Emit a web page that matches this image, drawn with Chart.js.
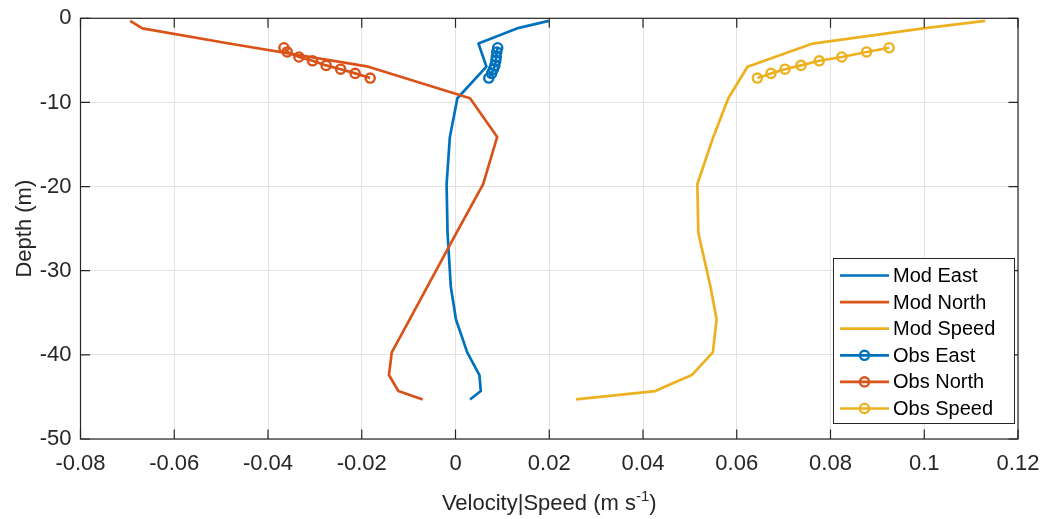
<!DOCTYPE html>
<html>
<head>
<meta charset="utf-8">
<script src="https://cdn.jsdelivr.net/npm/chart.js@4.4.1/dist/chart.umd.min.js"></script>
<style>
  html, body { margin: 0; padding: 0; background: #ffffff; }
  #wrap { width: 1047px; height: 519px; }
</style>
</head>
<body>
<div id="wrap"><canvas id="c" width="1047" height="519"></canvas></div>
<script>
// Model profile depths (m) and velocity components / speed (m/s)
const modDepth = [-0.3, -1.2, -3.0, -5.75, -9.5, -14.1, -19.7, -25.5, -31.9, -35.8, -39.7, -42.4, -44.3, -45.3];
const modEast  = [0.0199, 0.0131, 0.0049, 0.0066, 0.0004, -0.0012, -0.0019, -0.0017, -0.0010, 0.0001, 0.0025, 0.0051, 0.0054, 0.0031];
const modNorth = [-0.0694, -0.0668, -0.0483, -0.0186, 0.0031, 0.0089, 0.0059, 0.0002, -0.0060, -0.0098, -0.0136, -0.0142, -0.0122, -0.0070];
const modSpeed = [0.1130, 0.0998, 0.0762, 0.0623, 0.0582, 0.0550, 0.0516, 0.0518, 0.0544, 0.0557, 0.0549, 0.0504, 0.0426, 0.0257];

// Observed profile
const obsDepth = [-3.5, -4.0, -4.6, -5.05, -5.6, -6.05, -6.55, -7.1];
const obsEast  = [0.0090, 0.0088, 0.0087, 0.0086, 0.0084, 0.0081, 0.0077, 0.0071];
const obsNorth = [-0.0366, -0.0359, -0.0334, -0.0305, -0.0276, -0.0245, -0.0214, -0.0182];
const obsSpeed = [0.0925, 0.0877, 0.0824, 0.0776, 0.0737, 0.0703, 0.0673, 0.0644];

// Axis ticks
const xTicks = [-0.08, -0.06, -0.04, -0.02, 0, 0.02, 0.04, 0.06, 0.08, 0.1, 0.12];
const yTicks = [-50, -40, -30, -20, -10, 0];

const seriesNames = ['Mod East', 'Mod North', 'Mod Speed', 'Obs East', 'Obs North', 'Obs Speed'];
const C_BLUE = '#0072BD', C_ORANGE = '#D95319', C_YELLOW = '#EDB120';
const AXIS = '#262626';
const FONT = "Arial, 'Liberation Sans', Helvetica, sans-serif";

const pts = (xs, ys) => xs.map((v, i) => ({ x: v, y: ys[i] }));

function lineSet(label, xs, ys, color, order) {
  return {
    label, data: pts(xs, ys), showLine: true,
    borderColor: color, backgroundColor: color, borderWidth: 2.7,
    pointRadius: 0, borderJoinStyle: 'round', order
  };
}
function obsSet(label, xs, ys, color, order) {
  return {
    label, data: pts(xs, ys), showLine: true,
    borderColor: color, backgroundColor: 'rgba(0,0,0,0)', borderWidth: 2.7,
    pointRadius: 4.6, pointBorderWidth: 2.4, pointBorderColor: color,
    pointBackgroundColor: 'rgba(0,0,0,0)', borderJoinStyle: 'round', order,
    isObs: true
  };
}

// Axes box, inward tick marks, axis titles and legend
const decor = {
  id: 'decor',
  afterDatasetsDraw(chart) {
    const { ctx, chartArea: a, scales } = chart;
    const xs = scales.x, ys = scales.y;
    const TL = 9.5;
    ctx.save();
    ctx.strokeStyle = AXIS;
    ctx.lineWidth = 1.2;
    ctx.beginPath();
    xTicks.forEach(v => {
      const px = xs.getPixelForValue(v);
      ctx.moveTo(px, a.bottom); ctx.lineTo(px, a.bottom - TL);
      ctx.moveTo(px, a.top); ctx.lineTo(px, a.top + TL);
    });
    yTicks.forEach(v => {
      const py = ys.getPixelForValue(v);
      ctx.moveTo(a.left, py); ctx.lineTo(a.left + TL, py);
      ctx.moveTo(a.right, py); ctx.lineTo(a.right - TL, py);
    });
    ctx.stroke();
    ctx.strokeRect(a.left, a.top, a.right - a.left, a.bottom - a.top);

    // Axis titles
    ctx.fillStyle = AXIS;
    ctx.font = '22px ' + FONT;
    ctx.textBaseline = 'alphabetic';
    const main = 'Velocity|Speed (m s';
    const sup = '-1';
    const tail = ')';
    const wMain = ctx.measureText(main).width;
    const wTail = ctx.measureText(tail).width;
    ctx.font = '15px ' + FONT;
    const wSup = ctx.measureText(sup).width;
    const total = wMain + wSup + wTail;
    const cx = (a.left + a.right) / 2;
    const x0 = cx - total / 2;
    const base = 509.5;
    ctx.font = '22px ' + FONT;
    ctx.textAlign = 'left';
    ctx.fillText(main, x0, base);
    ctx.font = '15px ' + FONT;
    ctx.fillText(sup, x0 + wMain, base - 9);
    ctx.font = '22px ' + FONT;
    ctx.fillText(tail, x0 + wMain + wSup, base);

    ctx.save();
    ctx.translate(31, (a.top + a.bottom) / 2);
    ctx.rotate(-Math.PI / 2);
    ctx.textAlign = 'center';
    ctx.fillText('Depth (m)', 0, 0);
    ctx.restore();

    // Legend
    const lx = 833.5, ly = 258.5, lw = 181, lh = 165;
    ctx.fillStyle = '#ffffff';
    ctx.fillRect(lx, ly, lw, lh);
    ctx.strokeStyle = AXIS;
    ctx.lineWidth = 1;
    ctx.strokeRect(lx, ly, lw, lh);
    ctx.font = '20px ' + FONT;
    ctx.textAlign = 'left';
    ctx.textBaseline = 'middle';
    chart.data.datasets.forEach((ds, i) => {
      const y = 275.5 + i * 26.6;
      ctx.strokeStyle = ds.borderColor;
      ctx.lineWidth = 2.7;
      ctx.beginPath();
      ctx.moveTo(840, y); ctx.lineTo(889, y);
      ctx.stroke();
      if (ds.isObs) {
        ctx.lineWidth = 2.4;
        ctx.beginPath();
        ctx.arc(864.5, y, 4.6, 0, Math.PI * 2);
        ctx.stroke();
      }
      ctx.fillStyle = '#000000';
      ctx.fillText(ds.label, 893, y + 1);
    });
    ctx.restore();
  }
};

new Chart(document.getElementById('c'), {
  type: 'scatter',
  data: {
    datasets: [
      lineSet(seriesNames[0], modEast, modDepth, C_BLUE, 6),
      lineSet(seriesNames[1], modNorth, modDepth, C_ORANGE, 5),
      lineSet(seriesNames[2], modSpeed, modDepth, C_YELLOW, 4),
      obsSet(seriesNames[3], obsEast, obsDepth, C_BLUE, 3),
      obsSet(seriesNames[4], obsNorth, obsDepth, C_ORANGE, 2),
      obsSet(seriesNames[5], obsSpeed, obsDepth, C_YELLOW, 1)
    ]
  },
  options: {
    responsive: false,
    animation: false,
    devicePixelRatio: 1,
    layout: { padding: { left: 0, top: 18.3, right: 29, bottom: 0 } },
    plugins: { legend: { display: false }, tooltip: { enabled: false } },
    scales: {
      x: {
        type: 'linear', min: xTicks[0], max: xTicks[xTicks.length - 1],
        afterBuildTicks: s => { s.ticks = xTicks.map(v => ({ value: v })); },
        afterFit: s => { s.height = 80; s.paddingLeft = 0; s.paddingRight = 0; },
        grid: { color: '#e2e2e2', lineWidth: 1, drawTicks: false },
        border: { display: false },
        ticks: {
          padding: 12, color: AXIS, maxRotation: 0, autoSkip: false,
          font: { family: FONT, size: 22 },
          callback: v => String(+Number(v).toFixed(2))
        }
      },
      y: {
        type: 'linear', min: yTicks[0], max: yTicks[yTicks.length - 1],
        afterBuildTicks: s => { s.ticks = yTicks.map(v => ({ value: v })); },
        afterFit: s => { s.width = 80.5; s.paddingTop = 0; s.paddingBottom = 0; },
        grid: { color: '#e2e2e2', lineWidth: 1, drawTicks: false },
        border: { display: false },
        ticks: {
          padding: 9, color: AXIS, autoSkip: false,
          font: { family: FONT, size: 22 },
          callback: v => String(v)
        }
      }
    }
  },
  plugins: [decor]
});
</script>
</body>
</html>
